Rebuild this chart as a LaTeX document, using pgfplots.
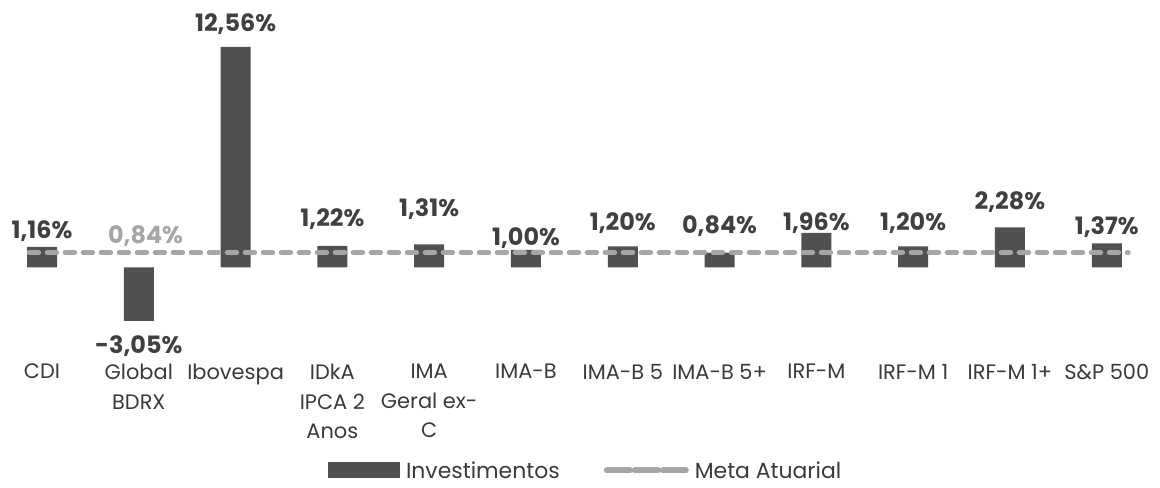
\documentclass[border=0pt]{standalone}
\usepackage{fontspec}
\setmainfont{Poppins}
\usepackage{pgfplots}
\pgfplotsset{compat=1.18}
\definecolor{barcol}{HTML}{505050}
\definecolor{metacol}{HTML}{A6A6A6}
\definecolor{labcol}{HTML}{404040}
\definecolor{tickcol}{HTML}{3A3A3A}
\begin{document}
\begin{tikzpicture}
\path[use as bounding box] (0,0) rectangle (1160bp,488bp);
\begin{axis}[
  at={(0,0)}, anchor=south west,
  width=1160bp, height=488bp, scale only axis,
  xmin=-0.434, xmax=11.55, ymin=-12.57, ymax=15.23,
  clip=false,
  axis line style={draw=none},
  ytick=\empty,
  xtick={0,1,2,3,4,5,6,7,8,9,10,11},
  xticklabels={CDI,Global\\BDRX,Ibovespa,IDkA\\IPCA 2\\Anos,IMA\\Geral ex-\\C,IMA-B,IMA-B 5,IMA-B 5+,IRF-M,IRF-M 1,IRF-M 1+,S\&P 500},
  major tick length=0pt,
  xticklabel style={align=center, yshift=124bp, text=tickcol, font=\fontsize{21}{29.5}\selectfont, inner sep=0pt},
  legend style={at={(0.2828,0.036)}, anchor=west, draw=none, fill=none,
    inner sep=0pt, outer sep=0pt,
    legend columns=2, font=\fontsize{22}{24}\selectfont, text=tickcol,
    nodes={inner xsep=0pt},
    /tikz/every odd column/.append style={column sep=6bp},
    /tikz/every even column/.append style={column sep=44bp}},
]
\addplot[ybar, bar width=30bp, fill=barcol, draw=none,
  legend image code/.code={\fill[barcol] (0bp,-8bp) rectangle (72bp,8bp);}]
  coordinates {(0,1.16) (1,-3.05) (2,12.56) (3,1.22) (4,1.31) (5,1.00) (6,1.20) (7,0.84) (8,1.96) (9,1.20) (10,2.28) (11,1.37)};
\addlegendentry{Investimentos}
\addplot[metacol, line width=5.5bp, line cap=round, dash pattern=on 9bp off 9bp,
  legend image code/.code={\draw[metacol, line width=6bp, dash pattern=on 23bp off 5bp] (0bp,0bp) -- (79bp,0bp);}]
  coordinates {(-0.13,0.84) (0,0.84) (1,0.84) (2,0.84) (3,0.84) (4,0.84) (5,0.84) (6,0.84) (7,0.84) (8,0.84) (9,0.84) (10,0.84) (11,0.84) (11.22,0.84)};
\addlegendentry{Meta Atuarial}
\addplot[draw=none, mark=none, forget plot, nodes near coords, point meta=explicit symbolic,
  every node near coord/.append style={inner sep=0pt, text=labcol, font=\fontsize{24}{26}\selectfont\bfseries}]
  coordinates {(0,1.48)[1,16\%] (1,-5.1)[-3,05\%] (2,13.24)[12,56\%] (3,2.16)[1,22\%] (4,2.73)[1,31\%] (5,1.08)[1,00\%] (6,1.93)[1,20\%] (7,1.76)[0,84\%] (8,1.93)[1,96\%] (9,1.93)[1,20\%] (10,3.125)[2,28\%] (11,1.70)[1,37\%]};
\addplot[draw=none, mark=none, forget plot, nodes near coords, point meta=explicit symbolic,
  every node near coord/.append style={inner sep=0pt, text=metacol, font=\fontsize{24}{26}\selectfont\bfseries}]
  coordinates {(1.07,1.19)[0,84\%]};
\end{axis}
\end{tikzpicture}
\end{document}
